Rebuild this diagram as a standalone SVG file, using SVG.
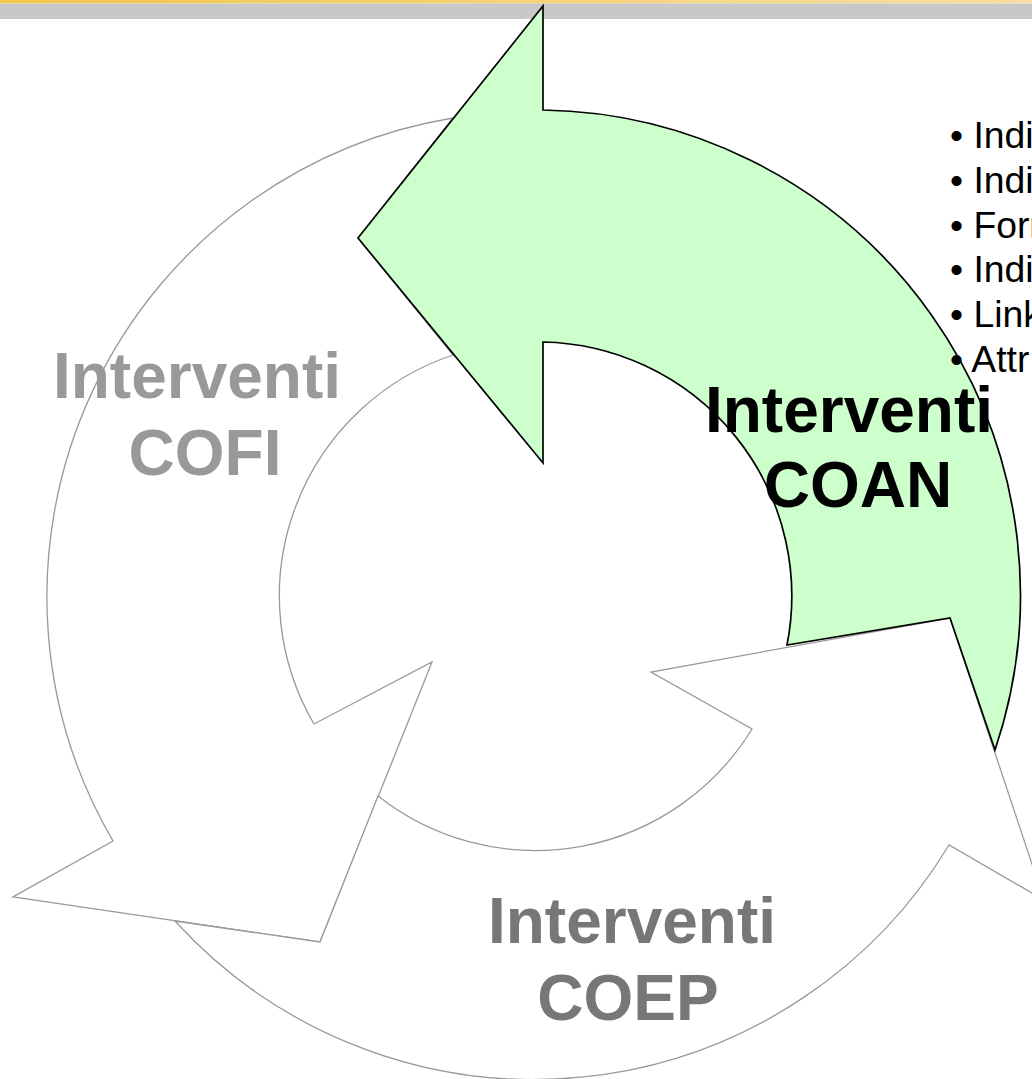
<svg xmlns="http://www.w3.org/2000/svg" width="1032" height="1079" viewBox="0 0 1032 1079">
  <defs>
    <linearGradient id="topband" x1="0" y1="0" x2="1" y2="0">
      <stop offset="0" stop-color="#F2C64A"/>
      <stop offset="1" stop-color="#F8DFA2"/>
    </linearGradient>
    <style>
      .seg { fill: #FFFFFF; stroke: #999999; stroke-width: 1.3; stroke-linejoin: miter; }
      .active { fill: #CCFFCC; stroke: #000000; stroke-width: 1.7; stroke-linejoin: miter; }
      .lbl { font-family: "Liberation Sans", Arial, sans-serif; font-weight: bold; font-size: 64px; text-anchor: middle; }
      .bul { font-family: "Liberation Sans", Arial, sans-serif; font-size: 37.3px; fill: #000000; }
    </style>
  </defs>
  <rect x="0" y="0" width="1032" height="1079" fill="#FFFFFF"/>
  <rect x="0" y="0" width="1032" height="3.5" fill="url(#topband)"/>
  <rect x="0" y="3.5" width="1032" height="15.5" fill="#C8C8C8"/>

  <g id="connectors"></g>

  <g id="node-cofi">
    <path class="seg" d="M 453,118 A 485 485 0 0 0 113,841 L 13,897 L 320,942 L 432,662 L 314,724 A 254 254 0 0 1 453,355 L 358,238 Z"/>
    <text class="lbl" fill="#999999"><tspan x="197" y="398">Interventi</tspan><tspan x="205" y="475">COFI</tspan></text>
  </g>

  <g id="node-coep">
    <path class="seg" d="M 175,921 A 485 485 0 0 0 949,845 L 1044,900 L 950,618 L 651,672 L 752,729 A 254 254 0 0 1 378,796 L 320,942 Z"/>
    <text class="lbl" fill="#777777"><tspan x="632" y="943">Interventi</tspan><tspan x="628" y="1020">COEP</tspan></text>
  </g>

  <g id="node-coan">
    <path class="active" d="M 543,6 L 543,110 A 485 485 0 0 1 995,750 L 950,618 L 787,645 A 254 254 0 0 0 543,342 L 543,463 L 358,238 Z"/>
    <text class="lbl" fill="#000000"><tspan x="849" y="432">Interventi</tspan><tspan x="858" y="507">COAN</tspan></text>
  </g>

  <g id="bullets">
    <text class="bul" x="950" y="148">• Indi</text>
    <text class="bul" x="950" y="193">• Indi</text>
    <text class="bul" x="950" y="237.6">• Form</text>
    <text class="bul" x="950" y="282.4">• Indi</text>
    <text class="bul" x="950" y="327.2">• Link</text>
    <text class="bul" x="950" y="372">• Attr</text>
  </g>
</svg>
